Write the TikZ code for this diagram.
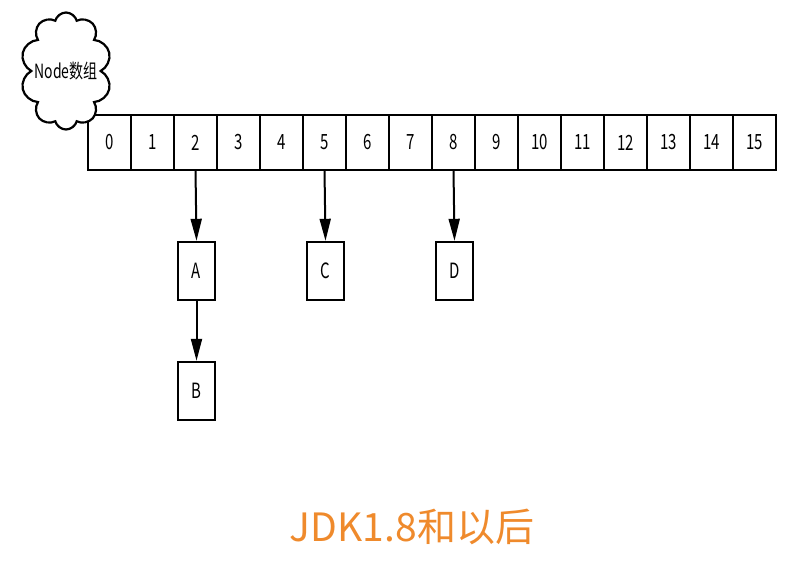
\documentclass[tikz,border=0pt]{standalone}
\usepackage{fontspec}
\setmainfont{Noto Sans CJK SC}
\usetikzlibrary{shapes.symbols,arrows.meta}
\definecolor{jdkorange}{HTML}{EF8A2C}
\tikzset{
    cell/.style={draw, line width=2.2pt, minimum width=43pt, minimum height=55pt,
        inner sep=0pt, outer sep=0pt, font=\fontsize{15}{15}\selectfont},
    entry/.style={draw, line width=2.4pt, minimum width=37pt, minimum height=58pt,
        inner sep=0pt, font=\fontsize{15}{15}\selectfont},
    arr/.style={line width=2pt, -{Triangle[length=22pt,width=11pt]}}
}
\newcommand{\tallnum}[1]{\scalebox{1}[1.4]{#1}}
\begin{document}
\begin{tikzpicture}[x=1pt, y=-1pt]
    \useasboundingbox (0,0) rectangle (790,562);
    % the table
    \foreach \i in {0,...,15}
        \node[cell] (c\i) at ({109.5+43*\i}, 142.5) {\tallnum{\i}};
    \node[cloud, draw, line width=2.2pt, fill=white, cloud puffs=10, aspect=0.78,
        minimum width=91pt, minimum height=117pt, inner sep=0pt] (arr) at (66, 71) {};
    \node[font=\fontsize{14}{14}\selectfont] (arrlabel) at (arr.center) {\tallnum{Node数组}};
    % the entries
    \node[entry] (A) at (196.5, 271) {\tallnum{A}};
    \node[entry] (B) at (196.5, 391) {\tallnum{B}};
    \node[entry] (C) at (325.5, 271) {\tallnum{C}};
    \node[entry] (D) at (454.5, 271) {\tallnum{D}};
    \draw[arr] (c2.south) -- (A.north);
    \draw[arr] (A.south) -- (B.north);
    \draw[arr] (c5.south) -- (C.north);
    \draw[arr] (c8.south) -- (D.north);
    \node[text=jdkorange, font=\fontsize{39}{39}\selectfont] (title) at (412, 527) {JDK1.8和以后};
\end{tikzpicture}
\end{document}
